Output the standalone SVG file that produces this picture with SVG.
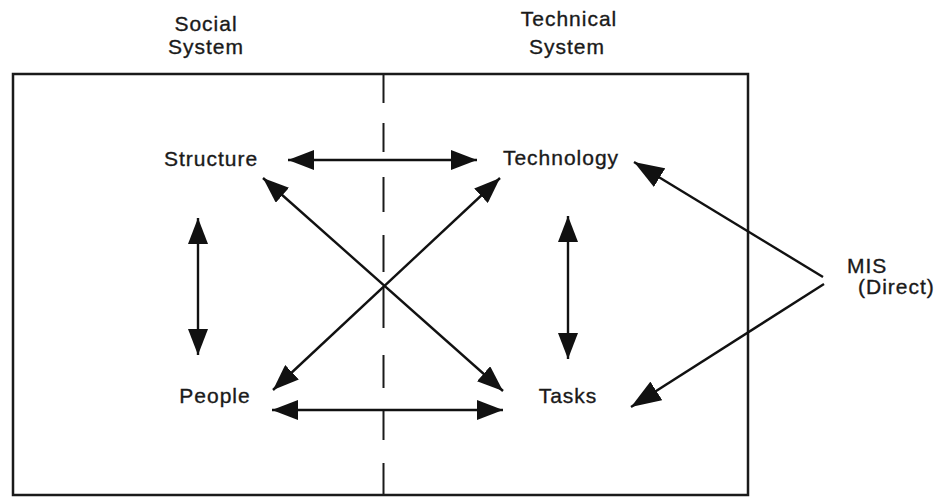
<svg xmlns="http://www.w3.org/2000/svg" width="936" height="497" viewBox="0 0 936 497">
  <style>
    .lbl { font-family: "Liberation Sans", Arial, Helvetica, sans-serif; font-size: 21px; letter-spacing: 1px; fill: #1a1a1a; stroke: #1a1a1a; stroke-width: 0.35px; }
    .mid { text-anchor: middle; }
    .frame { fill: none; stroke: #1a1a1a; stroke-width: 2.5; }
    .dash { fill: none; stroke: #1a1a1a; stroke-width: 2; }
    .conn { fill: none; stroke: #111; stroke-width: 2.4; marker-start: url(#ah); marker-end: url(#ah); }
    .one { fill: none; stroke: #111; stroke-width: 2.4; marker-end: url(#ah2); }
  </style>
  <defs>
    <marker id="ah" viewBox="0 0 26 20" markerWidth="26" markerHeight="20" refX="26" refY="10" orient="auto-start-reverse" markerUnits="userSpaceOnUse">
      <path d="M0,0 L26,10 L0,20 Z" fill="#111"/>
    </marker>
    <marker id="ah2" viewBox="0 0 30 22" markerWidth="30" markerHeight="22" refX="30" refY="11" orient="auto" markerUnits="userSpaceOnUse">
      <path d="M0,0 L30,11 L0,22 Z" fill="#111"/>
    </marker>
  </defs>
  <rect fill="#fff" x="0" y="0" width="936" height="497"/>

  <g id="frame">
    <rect class="frame" x="13" y="74" width="735" height="421"/>
    <path class="dash" d="M383.5,74 V103 M383.5,123 V152 M383.5,177 V212 M383.5,235 V272 M383.5,287 V328 M383.5,355 V388 M383.5,410 V440 M383.5,463 V495"/>
  </g>

  <g id="social-system">
    <text class="lbl mid" x="206" y="31">Social</text>
    <text class="lbl mid" x="206" y="54">System</text>
  </g>
  <g id="technical-system">
    <text class="lbl mid" x="569" y="26">Technical</text>
    <text class="lbl mid" x="567" y="54">System</text>
  </g>

  <g id="structure"><text class="lbl mid" x="211" y="166">Structure</text></g>
  <g id="technology"><text class="lbl mid" x="561" y="165">Technology</text></g>
  <g id="people"><text class="lbl mid" x="215" y="403">People</text></g>
  <g id="tasks"><text class="lbl mid" x="568" y="403">Tasks</text></g>
  <g id="mis">
    <text class="lbl" x="847" y="273">MIS</text>
    <text class="lbl" x="858" y="294">(Direct)</text>
  </g>

  <g id="connectors">
    <line class="conn" x1="288" y1="160" x2="477" y2="160"/>
    <line class="conn" x1="272" y1="410" x2="503" y2="410"/>
    <line class="conn" x1="198" y1="218" x2="198" y2="355"/>
    <line class="conn" x1="568" y1="216" x2="568" y2="359"/>
    <line class="conn" x1="263" y1="178" x2="503" y2="391"/>
    <line class="conn" x1="500" y1="178" x2="273" y2="390"/>
    <line class="one" x1="823" y1="277" x2="634" y2="162"/>
    <line class="one" x1="824" y1="284" x2="631" y2="407"/>
  </g>
</svg>
